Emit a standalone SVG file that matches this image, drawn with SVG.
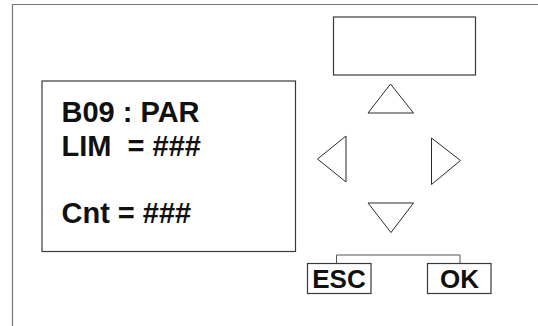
<svg xmlns="http://www.w3.org/2000/svg" width="538" height="326" viewBox="0 0 538 326">
<style>
.frame{fill:none;stroke:#777;stroke-width:1.2}
.box{fill:none;stroke:#3a3a3a;stroke-width:1.2}
.tri{fill:none;stroke:#2a2a2a;stroke-width:1}
.conn{fill:none;stroke:#555;stroke-width:1}
.big{font-family:"Liberation Sans",Arial,sans-serif;font-weight:bold;font-size:29px;fill:#111}
.btn{font-family:"Liberation Sans",Arial,sans-serif;font-weight:bold;font-size:26px;fill:#111;text-anchor:middle}
</style>
<rect width="538" height="326" fill="#fff"/>
<g id="frame"><path class="frame" d="M12.5,326 V4.5 H538"/></g>
<g id="top-display"><rect class="box" x="333.5" y="17" width="142" height="58"/></g>
<g id="main-display">
<rect class="box" x="42" y="81" width="253.5" height="170.5"/>
<text class="big" x="61.5" y="121.5">B09 : PAR</text>
<text class="big" x="61.5" y="155.5" xml:space="preserve">LIM  = ###</text>
<text class="big" x="61.5" y="223">Cnt = ###</text>
</g>
<g id="up"><polygon class="tri" points="390.5,84 413.5,113 368,113"/></g>
<g id="left"><polygon class="tri" points="317.5,159 346,136 346,182"/></g>
<g id="right"><polygon class="tri" points="460.5,160.5 431.5,138 431.5,184.5"/></g>
<g id="down"><polygon class="tri" points="368,203 413.5,203 391,232.5"/></g>
<g id="connectors"><path class="conn" d="M336.5,263.5 V255 H460 V263.5"/></g>
<g id="esc">
<rect class="box" x="307.5" y="263.5" width="63.5" height="30"/>
<text class="btn" x="339" y="288">ESC</text>
</g>
<g id="ok">
<rect class="box" x="427.5" y="263.5" width="63.5" height="30"/>
<text class="btn" x="459.5" y="288">OK</text>
</g>
</svg>
